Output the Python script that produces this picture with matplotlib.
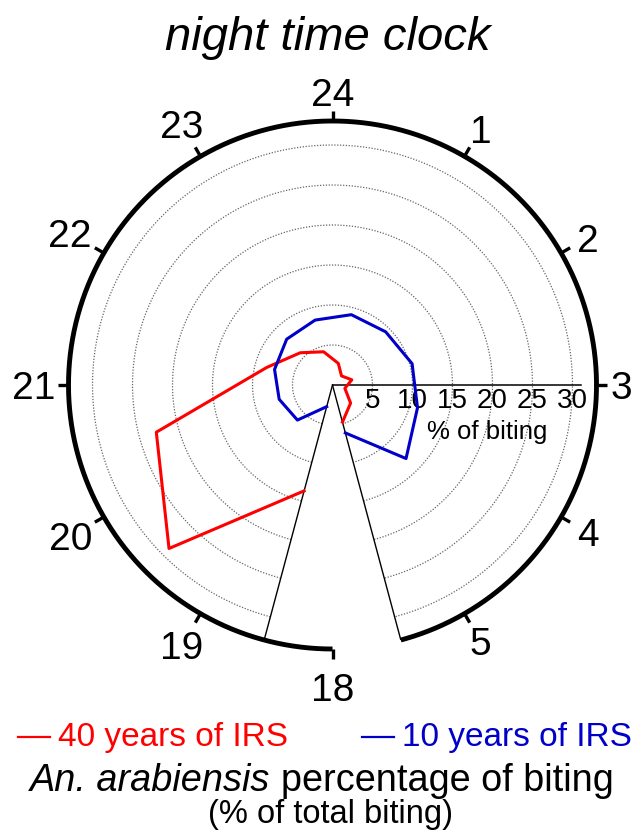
import matplotlib
matplotlib.use('Agg')
import matplotlib.pyplot as plt
from matplotlib.lines import Line2D
import numpy as np

plt.rcParams['font.family'] = ['Liberation Sans', 'DejaVu Sans']

# hourly biting (% of total), plotted at the middle of each hour 18-19 ... 5-6
hour_mid = [18.5, 19.5, 20.5, 21.5, 22.5, 23.5, 0.5, 1.5, 2.5, 3.5, 4.5, 5.5]
irs_40 = [13.7, 28.9, 22.8, 8.5, 5.7, 4.3, 2.8, 1.6, 2.5, 1.6, 3.2, 4.8]
irs_10 = [2.8, 6.2, 6.9, 7.5, 8.1, 8.4, 9.1, 9.4, 10.3, 11.0, 13.0, 6.2]
hour_ticks = [18, 19, 20, 21, 22, 23, 24, 1, 2, 3, 4, 5]
r_ticks = [5, 10, 15, 20, 25, 30]

R_MAX = 33      # outer ring
R_AXIS = 31     # length of the radial axis line


def theta(h):
    # 12 hour clock face, 24 on top, 18 at the bottom
    return np.deg2rad(((np.asarray(h, float) - 18) % 24) * 30 + 180)


W, H = 638, 832
fig = plt.figure(figsize=(W / 100, H / 100), dpi=100)
cx, cy, rad = 332.5, 447.0, 264.0   # centre and ring radius in pixels
ax = fig.add_axes([(cx - rad) / W, (cy - rad) / H, 2 * rad / W, 2 * rad / H],
                  projection='polar')
ax.set_theta_zero_location('N')
ax.set_theta_direction(-1)
ax.set_ylim(0, R_MAX)
ax.axis('off')

t_start, t_end = theta(18.5), theta(5.5)
arc = np.linspace(t_start, t_end, 500)

# dotted grid circles
for r in r_ticks:
    ax.plot(arc, np.full_like(arc, r), color='0.4', lw=0.9,
            linestyle=(0, (1, 1.3)), zorder=1)

# outer ring + hour ticks
ring = np.linspace(theta(18), t_end, 600)
ax.plot(ring, np.full_like(ring, R_MAX), color='black', lw=3.5,
        solid_capstyle='butt', clip_on=False, zorder=4)
for h in hour_ticks:
    ax.plot([theta(h)] * 2, [R_MAX, R_MAX + 1.3], color='black', lw=2.4,
            solid_capstyle='butt', clip_on=False, zorder=4)

# edges of the plotted night range
for t in (t_start, t_end):
    ax.plot([t, t], [0, R_MAX], color='black', lw=1, zorder=3)

# radial axis along 3 o'clock
ax.plot([np.pi / 2] * 2, [0, R_AXIS], color='black', lw=1.1, zorder=3)
for v in r_ticks:
    ax.annotate(str(v), xy=(np.pi / 2, v), xytext=(0, -2),
                textcoords='offset points', ha='center', va='top', fontsize=20)
ax.annotate('% of biting', xy=(np.pi / 2, 19.3), xytext=(0, -25),
            textcoords='offset points', ha='center', va='top', fontsize=18.5)

# data
ax.plot(theta(hour_mid), irs_40, color='#ff0000', lw=2.2, zorder=5)
ax.plot(theta(hour_mid), irs_10, color='#0000c8', lw=2.2, zorder=5)

# hour labels around the ring
fig.canvas.draw()
renderer = fig.canvas.get_renderer()
fs_hour = 28
em = fs_hour * 100 / 72
digit_h = 0.716 * em
R_lab = 279.0
for h in hour_ticks:
    th = theta(h)
    t = fig.text(0, 0, str(h), fontsize=fs_hour, ha='center', va='baseline')
    w = t.get_window_extent(renderer).width * 0.9
    ux, uy = np.sin(th), np.cos(th)
    r_c = R_lab + abs(ux) * w / 2 + abs(uy) * digit_h / 2
    if h == 18:
        r_c += 9
    px, py = cx + ux * r_c, cy + uy * r_c - digit_h / 2
    t.set_position((px / W, py / H))

# title
fig.text(328 / W, 1 - 50 / H, 'night time clock', style='italic',
         fontsize=34, ha='center', va='baseline')

# legend
leg_y = 1 - 737 / H
fig.add_artist(Line2D([18 / W, 50 / W], [leg_y, leg_y], color='#ff0000', lw=1.6))
fig.text(58 / W, 1 - 746 / H, '40 years of IRS', color='#ff0000', fontsize=24,
         va='baseline')
fig.add_artist(Line2D([362 / W, 394 / W], [leg_y, leg_y], color='#0000c8', lw=1.6))
fig.text(402 / W, 1 - 746 / H, '10 years of IRS', color='#0000c8', fontsize=24,
         va='baseline')

# caption
fs_cap = 27.3
t1 = fig.text(0, 0, 'An. arabiensis', style='italic', fontsize=fs_cap, va='baseline')
t2 = fig.text(0, 0, 'percentage of biting', fontsize=fs_cap, va='baseline')
w1 = t1.get_window_extent(renderer).width
w2 = t2.get_window_extent(renderer).width
gap = 0.278 * fs_cap * 100 / 72
left = 322 - (w1 + gap + w2) / 2
t1.set_position((left / W, 1 - 791 / H))
t2.set_position(((left + w1 + gap) / W, 1 - 791 / H))
fig.text(330 / W, 1 - 823 / H, '(% of total biting)', fontsize=23.5,
         ha='center', va='baseline')

fig.savefig('out.png', dpi=100)
